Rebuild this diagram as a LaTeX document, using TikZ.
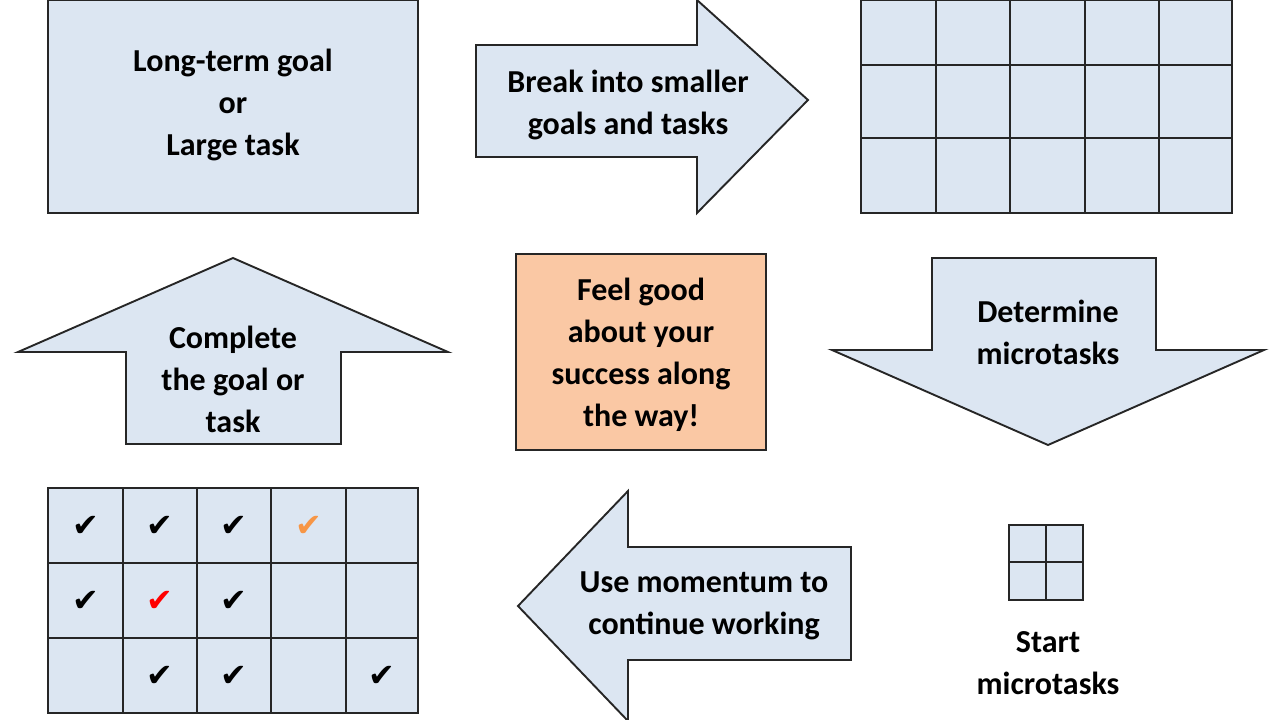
\documentclass[tikz,border=0pt]{standalone}
\usepackage{fontspec}
\setmainfont{Carlito}
\newfontfamily\symfont{DejaVu Sans}
\definecolor{paleblue}{HTML}{DCE6F2}
\definecolor{paleorange}{HTML}{FAC8A4}
\definecolor{checkorange}{HTML}{F79646}
\definecolor{edgegray}{HTML}{262626}

\tikzset{
  shapebox/.style={draw=edgegray, line width=1.9pt, fill=paleblue, line join=miter},
  label/.style={font=\fontsize{32}{42}\selectfont\bfseries, align=center, text=black},
  tick/.style={font=\fontsize{32}{32}\selectfont\symfont, text=black}
}

\begin{document}
\begin{tikzpicture}[x=1pt,y=-1pt]
  \useasboundingbox (0,0) rectangle (1280,720);
  %%%%%%%%%%%%%%%%
  %  Goal block  %
  %%%%%%%%%%%%%%%%
  \draw[shapebox] (48,0) rectangle (418,213);
  \node[label] (goal) at (233,105) {Long-term goal\\or\\Large task};
  %%%%%%%%%%%%%%%%%
  %  Break arrow  %
  %%%%%%%%%%%%%%%%%
  \draw[shapebox] (476,45) -- (697,45) -- (697,0) -- (808,100) -- (697,213)
    -- (697,157) -- (476,157) -- cycle;
  \node[label] (break) at (628,105) {Break into smaller\\goals and tasks};
  %%%%%%%%%%%%%%%%
  %  Large grid  %
  %%%%%%%%%%%%%%%%
  \draw[shapebox] (861,0) rectangle (1232,213);
  \foreach \cx in {936,1010,1085,1159}
    \draw[edgegray, line width=1.9pt] (\cx,0) -- (\cx,213);
  \foreach \cy in {65,138}
    \draw[edgegray, line width=1.9pt] (861,\cy) -- (1232,\cy);
  %%%%%%%%%%%%%%%%%%%
  %  Determine arrow %
  %%%%%%%%%%%%%%%%%%%
  \draw[shapebox] (932,258) -- (1156,258) -- (1156,350) -- (1264,350) -- (1048,445)
    -- (832,350) -- (932,350) -- cycle;
  \node[label] (determine) at (1048,332) {Determine\\microtasks};
  %%%%%%%%%%%%%%%%
  %  Feel good   %
  %%%%%%%%%%%%%%%%
  \draw[shapebox, fill=paleorange] (516,254) rectangle (766,450);
  \node[label] (feel) at (641,355) {Feel good\\about your\\success along\\the way!};
  %%%%%%%%%%%%%%%%%%%
  %  Complete arrow  %
  %%%%%%%%%%%%%%%%%%%
  \draw[shapebox] (233,258) -- (448,352) -- (341,352) -- (341,444) -- (126,444)
    -- (126,352) -- (18,352) -- cycle;
  \node[label] (complete) at (233,379) {Complete\\the goal or\\task};
  %%%%%%%%%%%%%%%%
  %  Small grid  %
  %%%%%%%%%%%%%%%%
  \draw[shapebox] (1009,525) rectangle (1083,600);
  \draw[edgegray, line width=1.9pt] (1046,525) -- (1046,600) (1009,562) -- (1083,562);
  \node[label] (start) at (1048,663) {Start\\microtasks};
  %%%%%%%%%%%%%%%%%%%%
  %  Momentum arrow  %
  %%%%%%%%%%%%%%%%%%%%
  \draw[shapebox] (851,547) -- (628,547) -- (628,491) -- (518,606) -- (628,721)
    -- (628,660) -- (851,660) -- cycle;
  \node[label] (momentum) at (704,606) {Use momentum to\\continue working};
  %%%%%%%%%%%%%%%%%
  %  Done grid    %
  %%%%%%%%%%%%%%%%%
  \draw[shapebox] (48,488) rectangle (418,713);
  \foreach \cx in {123,197,271,346}
    \draw[edgegray, line width=1.9pt] (\cx,488) -- (\cx,713);
  \foreach \cy in {563,638}
    \draw[edgegray, line width=1.9pt] (48,\cy) -- (418,\cy);
  \foreach \cx/\cy/\cc in {86/526/black, 160/526/black, 234/526/black, 309/526/checkorange,
      86/601/black, 160/601/red, 234/601/black,
      160/676/black, 234/676/black, 382/676/black}
    \node[tick, text=\cc] at (\cx,\cy) {✔};
\end{tikzpicture}
\end{document}
